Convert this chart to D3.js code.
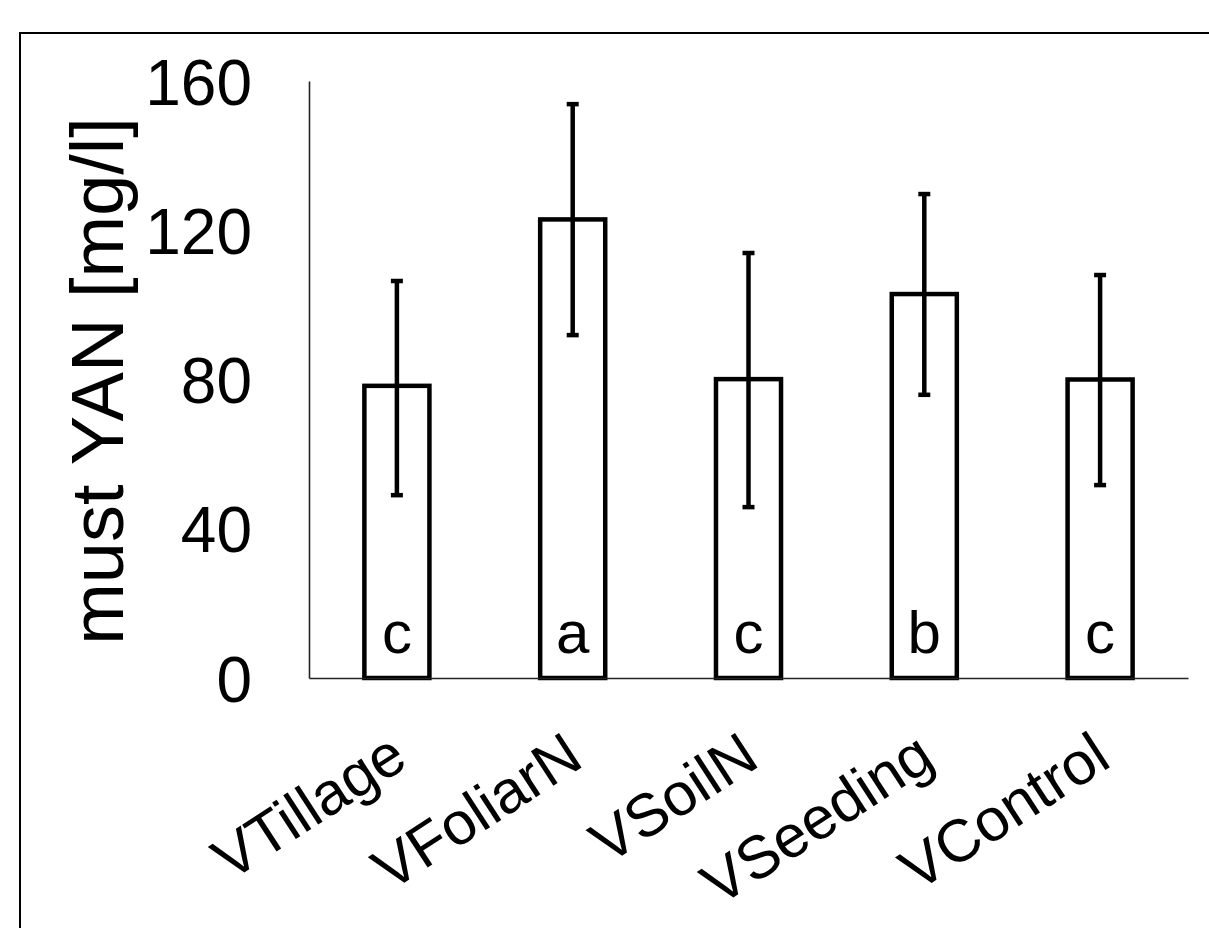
<!DOCTYPE html>
<html>
<head>
<meta charset="utf-8">
<script src="https://cdn.jsdelivr.net/npm/d3@7"></script>
<style>
  html, body { margin: 0; padding: 0; background: #fff; }
  svg { display: block; }
  text { font-family: "Liberation Sans", Arial, sans-serif; fill: #000; }
</style>
</head>
<body>
<svg id="chart" width="1209" height="928"></svg>
<script>
const categories = ["VTillage", "VFoliarN", "VSoilN", "VSeeding", "VControl"];
const means      = [78.3, 122.9, 80.1, 102.9, 80.0];
const errLower   = [49.0, 91.9, 45.8, 75.9, 51.7];
const errUpper   = [106.4, 153.8, 113.9, 129.7, 108.0];
const groups     = ["c", "a", "c", "b", "c"];
const yTicks     = [0, 40, 80, 120, 160];
const yTitle     = "must YAN [mg/l]";

const svg = d3.select("#chart");

// outer frame
svg.append("rect")
  .attr("x", 20).attr("y", 33)
  .attr("width", 1400).attr("height", 1200)
  .attr("fill", "none").attr("stroke", "#000").attr("stroke-width", 2);

const x = d3.scaleBand()
  .domain(categories)
  .range([309, 1188])
  .paddingInner(0.63)
  .paddingOuter(0.315);

const y = d3.scaleLinear()
  .domain([0, 160])
  .range([678, 81]);

// bars
svg.append("g").selectAll("rect")
  .data(categories)
  .join("rect")
  .attr("x", d => x(d))
  .attr("width", x.bandwidth())
  .attr("y", (d, i) => y(means[i]))
  .attr("height", (d, i) => y(0) - y(means[i]))
  .attr("fill", "#fff")
  .attr("stroke", "#000")
  .attr("stroke-width", 4.5);

// axes
const yAxis = svg.append("g")
  .attr("transform", "translate(309,0)")
  .call(d3.axisLeft(y).tickValues(yTicks).tickSize(0).tickPadding(57));
yAxis.select(".domain").attr("stroke", "#222").attr("stroke-width", 1.6);
yAxis.selectAll("text")
  .attr("font-size", 64)
  .attr("font-family", "Liberation Sans, Arial, sans-serif")
  .attr("dy", "0.36em");

const xAxis = svg.append("g")
  .attr("transform", "translate(0,678)")
  .call(d3.axisBottom(x).tickSize(0).tickSizeOuter(0));
xAxis.select(".domain").attr("stroke", "#222").attr("stroke-width", 1.6);
xAxis.selectAll("text")
  .attr("font-size", 60)
  .attr("font-family", "Liberation Sans, Arial, sans-serif")
  .attr("x", 0).attr("y", 0).attr("dy", 0)
  .attr("text-anchor", "end")
  .attr("transform", "translate(13,87) rotate(-33)");

// error bars
const eg = svg.append("g").attr("stroke", "#000");
categories.forEach((c, i) => {
  const cx = x(c) + x.bandwidth() / 2;
  eg.append("line")
    .attr("x1", cx).attr("x2", cx)
    .attr("y1", y(errLower[i])).attr("y2", y(errUpper[i]))
    .attr("stroke-width", 4.5);
  [errLower[i], errUpper[i]].forEach(v => {
    eg.append("line")
      .attr("x1", cx - 6).attr("x2", cx + 6)
      .attr("y1", y(v)).attr("y2", y(v))
      .attr("stroke-width", 4.5);
  });
});

// group letters
svg.append("g").selectAll("text")
  .data(categories)
  .join("text")
  .attr("x", d => x(d) + x.bandwidth() / 2)
  .attr("y", 653)
  .attr("text-anchor", "middle")
  .attr("font-size", 60)
  .text((d, i) => groups[i]);

// y title
svg.append("text")
  .attr("transform", "translate(123,381) rotate(-90)")
  .attr("text-anchor", "middle")
  .attr("font-size", 74)
  .text(yTitle);
</script>
</body>
</html>
